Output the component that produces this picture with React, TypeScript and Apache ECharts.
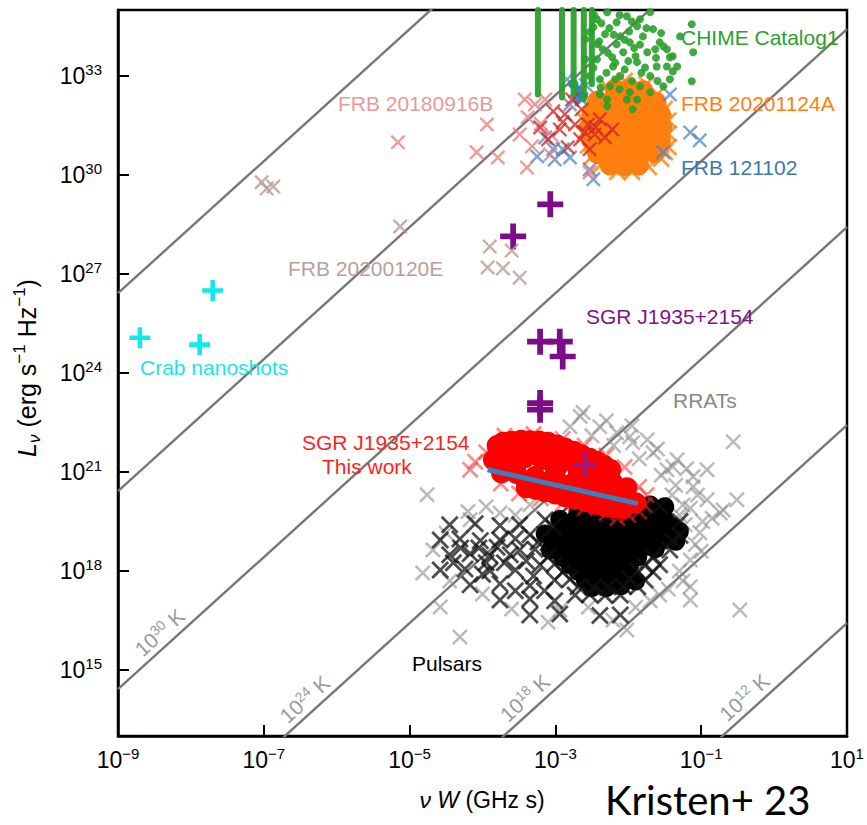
import React, { useEffect, useRef } from 'react';
import * as echarts from 'echarts';

// ---------- axes (log10 units) ----------
const xTickExponents = [-9, -7, -5, -3, -1, 1];
const yTickExponents = [15, 18, 21, 24, 27, 30, 33];
const xRange = [-9, 1];
const yRange = [13, 35];

// brightness temperature lines: log L = 2 log(nuW) + log T + offset
const brightnessTempsLogK = [12, 18, 24, 30, 36, 42];
const brightnessTempOffset = 2.42;
const labelledTempsLogK = [30, 24, 18, 12];
const labelledTempsAtLogX = [-8.3, -6.31, -3.29, -0.28];

// ---------- data: [log10(nu W / GHz s), log10(L_nu / erg s^-1 Hz^-1)] ----------
const crabNanoshots = [[-8.7, 25.07], [-7.88, 24.86], [-7.7, 26.5]];

const frb20200120E = [
  [-7.03, 29.78], [-6.87, 29.65], [-6.96, 29.59], [-5.13, 28.44], [-3.9, 27.83],
  [-3.6, 27.71], [-3.93, 27.2], [-3.72, 27.17], [-3.49, 26.89],
];

const frb20180916B = [
  [-5.16, 30.99], [-3.94, 31.53], [-4.08, 30.69], [-3.79, 30.53], [-3.39, 30.23],
  [-3.49, 31.23], [-3.38, 31.75], [-3.28, 32.14], [-3.32, 30.87], [-3.14, 32.29],
  [-3.07, 30.62], [-2.53, 30.08], [-3.42, 32.29], [-3.2, 31.55], [-3.05, 31.2],
];

const frb20180916BCore = [
  [-3.03, 31.93], [-3.21, 31.44], [-3.1, 31.08], [-2.94, 31.38], [-2.87, 31.84],
  [-2.77, 32.29], [-2.73, 31.53], [-2.83, 30.84], [-2.64, 31.99], [-2.55, 31.53],
  [-2.46, 31.23], [-2.32, 31.14], [-2.39, 31.69], [-2.66, 31.08], [-2.22, 31.38],
  [-2.53, 30.78], [-2.9, 31.6], [-2.6, 31.3], [-2.45, 31.45],
];

const frb121102 = [
  [-2.84, 32.9], [-2.73, 32.54], [-2.64, 32.29], [-2.58, 32.72], [-2.8, 32.14],
  [-3.25, 30.56], [-3.03, 30.78], [-2.9, 30.78], [-2.8, 30.53], [-2.53, 30.17],
  [-2.48, 29.87], [-1.43, 32.44], [-1.15, 31.29], [-1.02, 31.05], [-1.52, 30.69],
  [-3.14, 31.14], [-3.01, 30.47],
];
const frb121102Dense = [[-2.75, 32.75], [-2.68, 32.55], [-2.62, 32.4], [-2.7, 32.3]];

const frb20201124A = [
  [-2.18, 32.6], [-1.98, 32.6], [-1.8, 32.55],
  [-2.42, 32.24], [-2.22, 32.24], [-2.0, 32.24], [-1.79, 32.24], [-1.62, 32.2],
  [-2.5, 31.84], [-2.32, 31.84], [-2.12, 31.84], [-1.92, 31.84], [-1.73, 31.84], [-1.56, 31.84],
  [-2.53, 31.44], [-2.32, 31.44], [-2.11, 31.44], [-1.91, 31.44], [-1.7, 31.44], [-1.54, 31.44],
  [-2.5, 31.05], [-2.32, 31.05], [-2.12, 31.05], [-1.92, 31.05], [-1.73, 31.05], [-1.56, 31.05],
  [-2.42, 30.65], [-2.22, 30.65], [-2.02, 30.65], [-1.82, 30.65], [-1.64, 30.68],
  [-2.25, 30.3], [-2.05, 30.27], [-1.86, 30.3],
];
const frb20201124AEdge = [
  [-2.6, 31.25], [-2.6, 31.65], [-2.55, 30.9], [-2.5, 30.55], [-2.38, 30.3], [-2.15, 30.1],
  [-1.95, 30.1], [-1.72, 30.25], [-1.55, 30.5], [-1.45, 30.85], [-1.45, 31.25], [-1.45, 31.65],
  [-1.5, 32.0], [-1.6, 32.45], [-1.75, 32.75], [-2.05, 32.85], [-2.3, 32.7], [-1.5, 30.7],
];

// CHIME columns: [log nuW, top log L, bottom log L]
const chimeColumns = [
  [-3.24, 35.0, 32.44], [-2.91, 35.0, 32.35], [-2.75, 35.0, 32.44],
  [-2.61, 35.0, 32.29], [-2.5, 35.0, 32.75],
];

const chimeDots = [
  [-2.43, 34.72], [-2.29, 34.93], [-2.16, 34.63], [-2.02, 34.81], [-1.88, 34.51],
  [-2.11, 34.2], [-1.98, 34.02], [-1.8, 34.2], [-1.66, 34.42], [-1.57, 34.02],
  [-1.74, 33.72], [-1.88, 33.42], [-2.07, 33.72], [-2.21, 33.29], [-2.35, 33.81],
  [-2.39, 32.9], [-2.25, 32.69], [-2.11, 33.0], [-1.98, 32.51], [-1.84, 32.69],
  [-1.7, 33.0], [-1.7, 32.51], [-1.47, 33.81], [-1.39, 33.6], [-1.33, 33.29],
  [-1.47, 33.29], [-1.61, 33.29], [-1.11, 33.72], [-1.13, 34.57], [-1.13, 32.84],
  [-1.43, 32.9], [-1.52, 32.69], [-1.29, 34.2], [-1.84, 34.72], [-1.7, 34.93],
  [-2.29, 32.29], [-2.29, 32.08], [-2.02, 32.29], [-1.94, 31.99], [-1.88, 32.29],
  [-2.53, 34.33], [-2.43, 33.51], [-2.53, 33.0], [-1.52, 33.9], [-1.43, 33.57],
  [-1.39, 33.14], [-2.59, 34.11], [-2.48, 34.48], [-2.42, 33.96], [-2.32, 34.27],
  [-2.22, 33.57], [-2.16, 33.96], [-2.0, 33.45], [-2.59, 33.51], [-2.39, 32.44],
  [-2.18, 32.9], [-1.77, 33.26], [-1.63, 33.81],
  [-2.47, 34.85], [-2.37, 34.6], [-2.26, 34.45], [-2.12, 34.85], [-2.05, 34.1],
  [-1.95, 34.65], [-1.92, 33.85], [-2.18, 33.4], [-2.3, 33.1], [-2.12, 32.6],
  [-1.95, 32.85], [-1.82, 33.1], [-1.62, 33.55], [-1.55, 34.3], [-1.75, 34.45],
  [-2.4, 34.05], [-2.28, 33.7], [-2.05, 33.2], [-1.9, 33.6], [-1.6, 32.85],
  [-2.48, 33.25], [-2.38, 32.65], [-2.2, 34.25], [-1.99, 34.35], [-1.84, 33.95],
];

const sgrFrbsBright = [
  [-3.07, 29.11], [-3.58, 28.14], [-3.21, 24.95], [-2.94, 24.95], [-2.9, 24.5],
  [-3.21, 22.89], [-3.21, 23.09],
];
const sgrFrbsFaint = [[-2.59, 21.22]];

const sgrThisWork = [
  [-3.8, 21.8], [-3.6, 21.93], [-3.35, 21.95], [-3.1, 21.9], [-2.87, 21.73], [-2.64, 21.52], [-2.42, 21.31], [-2.24, 21.07],
  [-3.72, 21.9], [-3.47, 21.96], [-3.22, 21.94], [-2.98, 21.82], [-2.75, 21.63], [-2.53, 21.42], [-2.33, 21.2],
  [-3.85, 21.37], [-3.65, 21.43], [-3.42, 21.43], [-3.18, 21.37], [-2.94, 21.25], [-2.69, 21.07], [-2.46, 20.89], [-2.22, 20.7], [-2.02, 20.52],
  [-3.74, 20.97], [-3.53, 20.95], [-3.28, 20.86], [-3.05, 20.76], [-2.8, 20.61], [-2.55, 20.46], [-2.32, 20.31], [-2.09, 20.16], [-1.9, 20.07],
  [-3.4, 20.52], [-3.14, 20.4], [-2.87, 20.25], [-2.59, 20.1], [-2.32, 19.95], [-2.07, 19.88],
  [-3.27, 20.47], [-3.0, 20.33], [-2.73, 20.18], [-2.45, 20.02], [-2.19, 19.91],
  [-3.55, 21.65], [-3.25, 21.65], [-2.98, 21.5], [-2.72, 21.3], [-2.5, 21.1], [-3.6, 21.2], [-3.0, 21.0], [-2.7, 20.8], [-2.4, 20.55],
];
const sgrThisWorkFringe = [
  [-4.1, 21.31], [-4.17, 21.07], [-2.0, 19.7], [-1.85, 19.8], [-2.3, 19.75], [-1.78, 20.0],
  [-3.95, 21.6], [-3.7, 22.1], [-3.3, 22.15], [-2.9, 22.0], [-2.6, 21.8], [-2.3, 21.5],
  [-2.05, 21.15], [-1.85, 20.55], [-1.75, 20.3], [-2.6, 19.9], [-2.9, 20.05], [-3.2, 20.2],
  [-3.5, 20.35], [-3.75, 20.65], [-2.15, 19.6],
];
const sgrFit = [[-3.93, 21.07], [-1.87, 20.04]];

const pulsarsCore = [
  [-2.69, 19.79], [-2.48, 19.79], [-2.28, 19.81], [-2.07, 19.77], [-1.87, 19.79], [-1.66, 19.8],
  [-1.85, 20.0], [-1.7, 20.0], [-1.5, 19.95],
  [-2.94, 19.57], [-2.73, 19.55], [-2.53, 19.52], [-2.32, 19.55], [-2.11, 19.58], [-1.91, 19.55], [-1.7, 19.53], [-1.5, 19.55],
  [-2.83, 19.33], [-2.62, 19.35], [-2.42, 19.34], [-2.21, 19.31], [-2.0, 19.34], [-1.8, 19.36], [-1.59, 19.33], [-1.39, 19.34],
  [-3.14, 19.12], [-2.94, 19.1], [-2.73, 19.08], [-2.53, 19.1], [-2.32, 19.12], [-2.11, 19.1], [-1.91, 19.07], [-1.7, 19.1], [-1.5, 19.12], [-1.3, 19.2],
  [-3.03, 18.9], [-2.83, 18.88], [-2.62, 18.86], [-2.42, 18.88], [-2.21, 18.9], [-2.0, 18.88], [-1.8, 18.85], [-1.59, 18.88], [-1.35, 18.9],
  [-3.07, 18.64], [-2.87, 18.62], [-2.66, 18.64], [-2.46, 18.66], [-2.25, 18.64], [-2.05, 18.61], [-1.84, 18.64], [-1.63, 18.67],
  [-2.9, 18.41], [-2.69, 18.43], [-2.48, 18.45], [-2.28, 18.43], [-2.07, 18.4], [-1.87, 18.43],
  [-2.8, 18.19], [-2.59, 18.17], [-2.39, 18.19], [-2.18, 18.22], [-1.98, 18.19],
  [-2.69, 17.99], [-2.48, 17.97], [-2.28, 17.95], [-2.07, 17.97], [-1.9, 17.7],
  [-2.59, 17.73], [-2.39, 17.71], [-2.18, 17.73], [-2.5, 17.5], [-2.3, 17.5], [-2.1, 17.55],
];

const pulsars = [
  [-2.8, 20.01], [-2.59, 20.03], [-2.39, 19.98], [-2.18, 20.01], [-1.98, 20.05], [-1.77, 20.01], [-1.57, 19.97],
  [-3.14, 19.55], [-1.29, 19.5], [-3.03, 19.34], [-3.35, 19.1], [-1.29, 19.08], [-3.24, 18.88], [-1.39, 18.9],
  [-3.49, 18.64], [-3.28, 18.66], [-1.43, 18.64], [-3.1, 18.43], [-1.66, 18.44], [-3.21, 18.19], [-3.01, 18.21], [-1.77, 18.16], [-1.57, 18.19],
  [-2.9, 17.97], [-1.87, 18.0], [-1.66, 17.97], [-3.01, 17.73], [-2.8, 17.75], [-1.98, 17.76], [-1.77, 17.73],
  [-2.69, 17.52], [-2.48, 17.5], [-2.28, 17.52], [-2.07, 17.54], [-1.87, 17.52],
  [-2.73, 17.27], [-2.53, 17.29], [-2.32, 17.26], [-2.11, 17.27],
  [-4.45, 19.4], [-4.1, 19.43], [-3.76, 19.38], [-3.49, 19.4],
  [-4.58, 18.94], [-4.31, 18.97], [-4.03, 18.92], [-3.76, 18.94], [-3.55, 18.98],
  [-4.45, 18.49], [-4.17, 18.52], [-3.9, 18.47], [-3.62, 18.49],
  [-4.58, 18.03], [-4.24, 18.06], [-3.9, 18.01], [-3.55, 18.03],
  [-4.17, 17.58], [-3.76, 17.61], [-3.35, 17.56],
  [-3.76, 17.12], [-3.35, 17.15], [-3.01, 17.1],
  [-3.35, 16.67], [-2.94, 16.7], [-2.39, 16.65], [-2.11, 16.67],
  [-4.3, 18.7], [-4.05, 18.7], [-3.8, 18.72], [-3.95, 18.25], [-3.7, 18.25], [-4.4, 18.25],
  [-3.4, 18.3], [-3.3, 17.85], [-3.55, 17.4], [-4.0, 17.9], [-3.15, 17.4],
];

const rrats = [
  [-4.76, 20.31], [-4.31, 16.0], [-0.56, 21.92], [-0.47, 16.82], [-1.15, 17.52], [-4.58, 16.91],
  [-4.82, 17.94], [-4.68, 18.64], [-2.66, 22.68], [-2.39, 22.37], [-2.16, 22.19], [-1.94, 21.89],
  [-1.66, 21.58], [-1.39, 21.16], [-1.11, 20.86], [-0.92, 20.16], [-0.51, 20.16], [-0.74, 19.76],
  [-1.02, 19.16], [-1.15, 18.33], [-2.62, 22.8], [-2.8, 22.37], [-1.98, 22.07], [-1.33, 21.37],
  [-0.92, 21.07], [-0.7, 19.85], [-1.11, 20.55], [-1.47, 21.07], [-1.74, 21.98], [-1.57, 17.27],
  [-1.15, 17.12], [-2.02, 16.21], [-2.21, 16.51], [-2.94, 16.82], [-3.76, 19.76], [-3.35, 20.01],
  [-4.17, 19.55], [-1.22, 19.4], [-1.08, 18.8], [-1.3, 18.0], [-1.4, 20.3], [-1.25, 20.0],
  [-0.98, 19.5], [-2.5, 22.1], [-2.2, 21.8], [-1.85, 21.4], [-1.55, 20.9], [-1.35, 20.6],
  [-1.2, 21.1], [-1.05, 20.3], [-0.85, 19.6], [-1.0, 18.6], [-1.25, 17.7], [-1.45, 17.45],
  [-1.7, 17.1], [-1.9, 16.9], [-2.55, 16.9], [-3.1, 16.45], [-3.6, 16.85], [-4.0, 17.3],
  [-4.45, 17.7], [-4.5, 19.15], [-4.2, 19.8], [-3.95, 19.95], [-3.55, 19.7], [-1.6, 21.7],
  [-1.95, 22.4], [-2.3, 22.55], [-1.3, 19.7], [-1.15, 19.9],
];

// ---------- styling ----------
const FONT = '"Liberation Sans", Arial, Helvetica, sans-serif';
const X_PATH = 'path://M0,1.1L1.1,0L5,3.9L8.9,0L10,1.1L6.1,5L10,8.9L8.9,10L5,6.1L1.1,10L0,8.9L3.9,5Z';
const PLUS_PATH = 'path://M3.9,0L6.1,0L6.1,3.9L10,3.9L10,6.1L6.1,6.1L6.1,10L3.9,10L3.9,6.1L0,6.1L0,3.9L3.9,3.9Z';
const THIN_PLUS_PATH = 'path://M4.25,0L5.75,0L5.75,4.25L10,4.25L10,5.75L5.75,5.75L5.75,10L4.25,10L4.25,5.75L0,5.75L0,4.25L4.25,4.25Z';

const sup = (e: number) => (e < 0 ? '\u2212' + Math.abs(e) : String(e));
const tickRich = {
  b: { fontSize: 23, fontFamily: FONT, color: '#000', lineHeight: 28 },
  s: { fontSize: 15, fontFamily: FONT, color: '#000', lineHeight: 15, verticalAlign: 'top' },
};

function scatter(name: string, data: number[][], symbol: string, size: number, color: string, opacity: number, z: number) {
  return {
    type: 'scatter', name, data, symbol, symbolSize: size, z, silent: true,
    itemStyle: { color, opacity },
  };
}

export default function App() {
  const ref = useRef<HTMLDivElement>(null);
  useEffect(() => {
    if (!ref.current) return;
    const chart = echarts.init(ref.current, null, { renderer: 'svg' });

    const tempSeries = brightnessTempsLogK.map((t) => ({
      type: 'line', name: 'T' + t, silent: true, symbol: 'none', clip: true, z: 1,
      data: [[xRange[0], 2 * xRange[0] + t + brightnessTempOffset], [xRange[1], 2 * xRange[1] + t + brightnessTempOffset]],
      lineStyle: { color: '#777', width: 2.4 },
    }));
    const chimeSeries = chimeColumns.map((c, i) => ({
      type: 'line', name: 'chime' + i, silent: true, symbol: 'none', clip: true, z: 9,
      data: [[c[0], c[1]], [c[0], c[2]]],
      lineStyle: { color: '#2ca02c', width: 6, cap: 'round', opacity: 0.95 },
    }));

    const option: any = {
      animation: false,
      grid: { left: 118, right: 20, top: 10, bottom: 89, show: true, borderColor: '#000', borderWidth: 2.5, containLabel: false, outerBoundsMode: 'none' },
      xAxis: {
        type: 'value', min: xRange[0], max: xRange[1],
        axisLine: { show: true, onZero: false, lineStyle: { color: '#000', width: 2.5 } },
        axisTick: { show: true, inside: true, length: 11, customValues: xTickExponents, lineStyle: { color: '#000', width: 2 } },
        axisLabel: { customValues: xTickExponents, margin: 10, showMinLabel: true, showMaxLabel: true, formatter: (v: number) => `{b|10}{s|${sup(v)}}`, rich: tickRich },
        splitLine: { show: false },
      },
      yAxis: {
        type: 'value', min: yRange[0], max: yRange[1],
        axisLine: { show: true, onZero: false, lineStyle: { color: '#000', width: 2.5 } },
        axisTick: { show: true, inside: true, length: 11, customValues: yTickExponents, lineStyle: { color: '#000', width: 2 } },
        axisLabel: { customValues: yTickExponents, margin: 16, formatter: (v: number) => `{b|10}{s|${sup(v)}}`, rich: tickRich },
        splitLine: { show: false },
      },
      series: [
        ...tempSeries,
        scatter('RRATs', rrats, X_PATH, 16, '#8c8c8c', 0.6, 2),
        scatter('Pulsars core', pulsarsCore, 'circle', 19, '#000', 1, 3),
        scatter('Pulsars', pulsars, X_PATH, 18, '#111', 0.75, 3),
        scatter('SGR this work fringe', sgrThisWorkFringe, X_PATH, 17, '#ff2a2a', 0.55, 4),
        scatter('SGR J1935+2154 This work', sgrThisWork, 'circle', 21, '#ff0000', 1, 4),
        { type: 'line', name: 'fit', data: sgrFit, symbol: 'none', silent: true, z: 5, lineStyle: { color: '#3a80c0', width: 5 } },
        scatter('SGR J1935+2154', sgrFrbsBright, PLUS_PATH, 26, '#7b0d87', 1, 6),
        scatter('SGR faint', sgrFrbsFaint, THIN_PLUS_PATH, 25, '#8a1fa0', 0.9, 6),
        scatter('Crab nanoshots', crabNanoshots, PLUS_PATH, 21, '#14e8ee', 1, 6),
        scatter('FRB 20200120E', frb20200120E, X_PATH, 15, '#b89a94', 0.8, 6),
        scatter('FRB 20201124A edge', frb20201124AEdge, X_PATH, 18, '#ff8a1e', 0.85, 6),
        scatter('FRB 20201124A', frb20201124A, 'circle', 21, '#ff7f0e', 1, 6),
        scatter('FRB 121102', frb121102, X_PATH, 15, '#4a86c0', 0.75, 7),
        scatter('FRB 121102 dense', frb121102Dense, 'circle', 10, '#2f7fc0', 0.9, 7),
        scatter('FRB 20180916B', frb20180916B, X_PATH, 15, '#e87f80', 0.8, 7),
        scatter('FRB 20180916B core', frb20180916BCore, X_PATH, 15, '#d62728', 0.8, 8),
        ...chimeSeries,
        scatter('CHIME Catalog1', chimeDots, 'circle', 8, '#2ca02c', 0.9, 9),
      ],
    };
    chart.setOption(option);

    const toPx = (p: number[]) => chart.convertToPixel({ xAxisIndex: 0, yAxisIndex: 0 }, p) as number[];
    const label = (text: string, x: number, y: number, fill: string, size = 21) => ({
      type: 'text', x, y, z: 100, silent: true,
      style: { text, fill, fontSize: size, fontFamily: FONT, align: 'left', verticalAlign: 'middle', textAlign: 'left', textVerticalAlign: 'middle' },
    });

    const tempLabels = labelledTempsLogK.map((t, i) => {
      const lx = labelledTempsAtLogX[i];
      const p = toPx([lx, 2 * lx + t + brightnessTempOffset]);
      const p2 = toPx([lx + 1, 2 * (lx + 1) + t + brightnessTempOffset]);
      const ang = Math.atan2(p[1] - p2[1], p2[0] - p[0]);
      const off = 14;
      return {
        type: 'text', z: 100, silent: true,
        x: p[0] - Math.sin(ang) * off, y: p[1] - Math.cos(ang) * off, rotation: ang,
        style: {
          text: `{b|10}{s|${t}}{b| K}`, fill: '#999',
          align: 'center', verticalAlign: 'middle', textAlign: 'center', textVerticalAlign: 'middle',
          rich: {
            b: { fontSize: 21, fontFamily: FONT, fill: '#9a9a9a', color: '#9a9a9a', lineHeight: 24 },
            s: { fontSize: 14, fontFamily: FONT, fill: '#9a9a9a', color: '#9a9a9a', lineHeight: 14, verticalAlign: 'top' },
          },
        },
      };
    });

    chart.setOption({
      graphic: [
        label('CHIME Catalog1', 681, 37, '#2ca02c'),
        label('FRB 20201124A', 681, 103, '#ff7f0e'),
        label('FRB 121102', 681, 167, '#3c78b0'),
        label('FRB 20180916B', 338, 103, '#e8999b'),
        label('FRB 20200120E', 288, 268, '#b8a09a'),
        label('Crab nanoshots', 140, 367, '#18e4ea'),
        label('SGR J1935+2154', 586, 316, '#7b1586'),
        label('SGR J1935+2154', 302, 442, '#ff1f1f'),
        label('This work', 322, 466, '#ff1f1f'),
        label('RRATs', 673, 400, '#888'),
        label('Pulsars', 412, 663, '#000'),
        ...tempLabels,
        {
          type: 'text', x: 482, y: 800, z: 100, silent: true,
          style: {
            text: '{i|\u03bd W} (GHz s)', fill: '#000', fontSize: 23, fontFamily: FONT,
            align: 'center', verticalAlign: 'middle', textAlign: 'center', textVerticalAlign: 'middle',
            rich: { i: { fontSize: 23, fontFamily: FONT, fontStyle: 'italic', fill: '#000', color: '#000' } },
          },
        },
        {
          type: 'text', x: 27, y: 368, z: 100, silent: true, rotation: Math.PI / 2,
          style: {
            text: '{i|L}{sub|\u03bd} (erg s{sup|\u22121} Hz{sup|\u22121})', fill: '#000', fontSize: 25, fontFamily: FONT, lineHeight: 32,
            align: 'center', verticalAlign: 'middle', textAlign: 'center', textVerticalAlign: 'middle',
            rich: {
              i: { fontSize: 25, fontFamily: FONT, fontStyle: 'italic', fill: '#000', color: '#000', lineHeight: 32 },
              sub: { fontSize: 17, fontFamily: FONT, fontStyle: 'italic', fill: '#000', color: '#000', lineHeight: 17, verticalAlign: 'bottom' },
              sup: { fontSize: 17, fontFamily: FONT, fill: '#000', color: '#000', lineHeight: 17, verticalAlign: 'top' },
            },
          },
        },
        {
          type: 'text', x: 605, y: 800, z: 100, silent: true,
          style: { text: 'Kristen+ 23', fill: '#000', fontSize: 40, lineHeight: 40, fontFamily: 'Lato, "Open Sans", sans-serif', align: 'left', verticalAlign: 'middle', textAlign: 'left', textVerticalAlign: 'middle' },
        },
      ],
    });

    return () => chart.dispose();
  }, []);
  return <div ref={ref} style={{ position: 'absolute', left: 0, top: 0, width: 867, height: 825, background: '#fff' }} />;
}
